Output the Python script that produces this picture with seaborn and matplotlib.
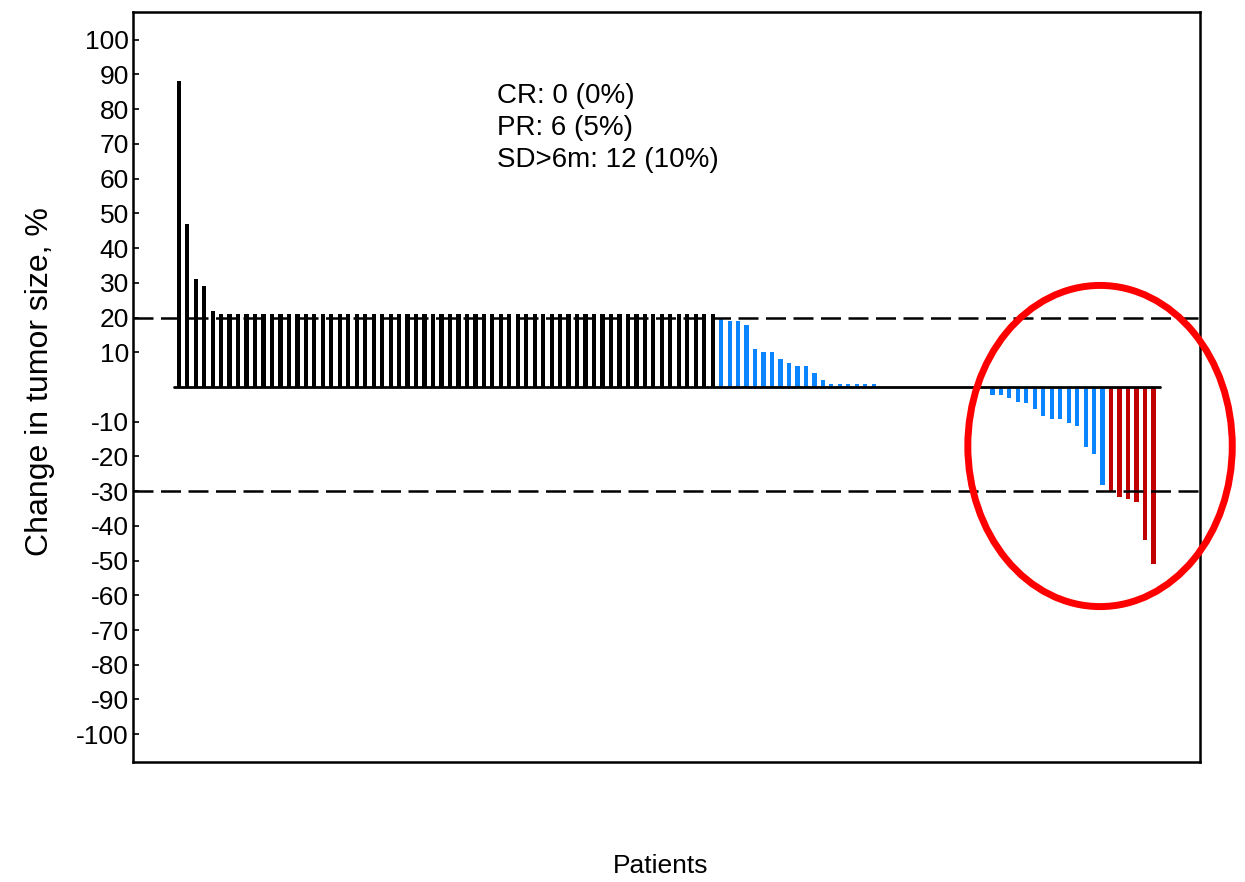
import numpy as np
import pandas as pd
import matplotlib
matplotlib.use('Agg')
import matplotlib.pyplot as plt
from matplotlib.patches import Ellipse
import seaborn as sns

# best % change per patient, sorted (waterfall)
pd_values = [88, 47, 31, 29, 22] + [21] * 59
sd_pos_values = [19.5, 19.0, 19.0, 17.8, 10.8, 10.0, 10.0, 8.0, 6.9, 5.9, 5.9,
                 3.9, 1.9, 1.0, 1.0, 1.0, 1.0, 1.0, 1.0]
zero_values = [0] * 13
sd_neg_values = [-2.3, -2.3, -3.1, -4.3, -4.6, -6.3, -8.3, -9.2, -9.2, -10.3,
                 -11.1, -17.2, -19.2, -28.2]
pr_values = [-30, -31.8, -32.2, -33.2, -44.2, -51.1]

y_ticks = [100, 90, 80, 70, 60, 50, 40, 30, 20, 10,
           -10, -20, -30, -40, -50, -60, -70, -80, -90, -100]

values = pd_values + sd_pos_values + zero_values + sd_neg_values + pr_values
groups = (['PD'] * len(pd_values) + ['SD'] * len(sd_pos_values)
          + ['SD'] * len(zero_values) + ['SD'] * len(sd_neg_values)
          + ['PR'] * len(pr_values))
df = pd.DataFrame({'patient': np.arange(len(values)), 'change': values, 'group': groups})
colors = {'PD': 'black', 'SD': '#0a84ff', 'PR': '#c00000'}

sns.set_style('white')
plt.rcParams['font.family'] = ['Liberation Sans', 'DejaVu Sans']
plt.rcParams['text.color'] = 'black'
plt.rcParams['ytick.color'] = 'black'

fig = plt.figure(figsize=(12.45, 8.82), dpi=100)
ax = fig.add_axes([0.1068, 0.1361, 0.8571, 0.8503])

sns.barplot(data=df, x='patient', y='change', color='black',
            width=0.5, linewidth=0, ax=ax, saturation=1, errorbar=None)
for bar, g in zip(ax.patches, df['group']):
    bar.set_facecolor(colors[g])

n = len(values)
ax.plot([-0.5, n - 0.2], [0, 0], color='black', lw=2, zorder=3)
ax.axhline(20, color='black', lw=1.8, ls=(0, (8, 3)))
ax.axhline(-30, color='black', lw=1.8, ls=(0, (8, 3)))

ax.set_xlim(-5.4, 120.5)
ax.set_ylim(-108, 108)
ax.set_xticks([])
ax.set_yticks(y_ticks)
ax.set_yticklabels([str(t) for t in y_ticks])
ax.tick_params(axis='y', direction='in', length=4, width=1.2, labelsize=19, pad=3,
               left=True, labelcolor='black')
ax.set_xlabel('')
ax.set_ylabel('')
for sp in ax.spines.values():
    sp.set_color('black')
    sp.set_linewidth(1.8)

ax.add_patch(Ellipse((108.7, -17), 31.2, 92.5, fill=False, edgecolor='#ff0000',
                     lw=5, clip_on=False, zorder=5))

fig.text(0.399, 0.906, 'CR: 0 (0%)\nPR: 6 (5%)\nSD>6m: 12 (10%)',
         fontsize=20, va='top', ha='left', linespacing=1.3)
fig.text(0.032, 0.567, 'Change in tumor size, %', fontsize=23, rotation=90,
         va='center', ha='center')
fig.text(0.531, 0.004, 'Patients', fontsize=19, va='bottom', ha='center')

fig.savefig('out.png', dpi=100)
plt.close(fig)
